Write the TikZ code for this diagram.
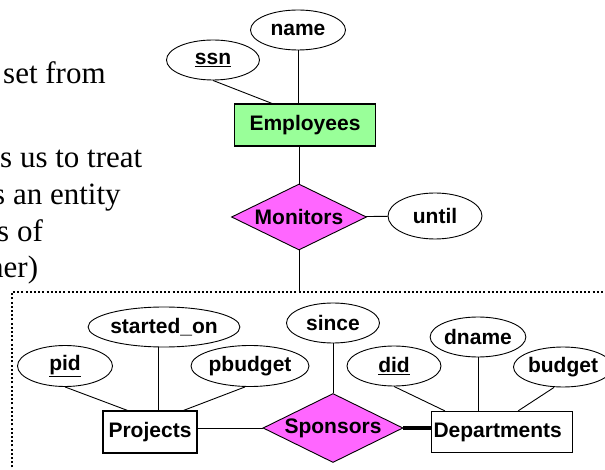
\documentclass[tikz,border=0pt]{standalone}
\usepackage{fontspec}
\setmainfont{Liberation Serif}
\setsansfont{Liberation Sans}
\usetikzlibrary{shapes.geometric}
\definecolor{entgreen}{RGB}{153,255,153}
\definecolor{relpink}{RGB}{255,102,255}
% keep the label from widening the diamond
\newcommand{\rlabel}[1]{\makebox[30pt]{#1}}

\begin{document}
\begin{tikzpicture}[x=1pt,y=-1pt,
    lbl/.style={font=\sffamily\bfseries\fontsize{21}{21}\selectfont},
    attr/.style={ellipse,draw,line width=0.9pt,inner sep=0pt,minimum height=40pt,lbl},
    ent/.style={rectangle,draw,line width=1.2pt,inner sep=0pt,minimum height=42pt,lbl},
    rel/.style={diamond,draw,line width=0.9pt,fill=relpink,inner sep=0pt,lbl},
    slide/.style={anchor=base west,inner sep=0pt,font=\fontsize{31}{37}\selectfont},
    aggr/.style={line width=2.2pt,dash pattern=on 2pt off 2.2pt}]
  \clip (0,0) rectangle (605,470);
  % leftover slide text, cut at the left border
  \node[slide] (t1) at (3,84) {set from};
  \node[slide] (t2) at (0,168) {s us to treat};
  \node[slide] (t3) at (-7,205) {s an entity};
  \node[slide] (t4) at (-3,242) {s of};
  \node[slide] (t5) at (-12,278) {her)};

  % Employees monitors the aggregate
  \node[attr,minimum width=95pt] (name) at (298,30) {name};
  \node[attr,minimum width=93pt] (ssn) at (213,60) {\underline{ssn}};
  \node[ent,fill=entgreen,minimum width=141pt] (emp) at (305,125) {Employees};
  \node[rel,minimum width=135pt,minimum height=66pt] (mon) at (299,217) {\rlabel{Monitors}};
  \node[attr,minimum width=94pt,minimum height=46pt] (until) at (435,216) {until};

  % aggregate: Projects -- Sponsors -- Departments
  \node[attr,minimum width=123pt] (sto) at (164,327) {started\_on};
  \node[attr,minimum width=95pt,minimum height=41pt] (pid) at (65,366) {\underline{pid}};
  \node[attr,minimum width=118pt,minimum height=41pt] (pbud) at (250,366) {pbudget};
  \node[ent,fill=white,minimum width=94pt] (proj) at (150,432) {Projects};
  \node[attr,minimum width=93pt] (since) at (333,323) {since};
  \node[rel,minimum width=140pt,minimum height=69pt] (spon) at (333,428) {\rlabel{Sponsors}};
  \node[attr,minimum width=94pt] (did) at (394,366) {\underline{did}};
  \node[attr,minimum width=93pt] (dname) at (478,337) {dname};
  \node[attr,minimum width=90pt] (bud) at (563,367) {budget};
  \node[ent,fill=white,minimum width=141pt,minimum height=41pt,text width=137pt,align=left] (dept) at (502,432) {Departments};

  \coordinate (top) at (299,292);
  \draw[aggr] (12,480) -- (12,292) -- (615,292);

  \path[draw,line width=0.9pt]
    (name) edge (name |- emp.north)
    (ssn.south) edge ([xshift=38pt]emp.north west)
    (mon) edge (mon |- emp.south)
          edge (until)
          edge (mon |- top)
    (pid.south) edge ([xshift=25pt]proj.north west)
    ([xshift=-6pt]sto.south) edge ([xshift=-6pt]sto.south |- proj.north)
    ([xshift=-5pt]pbud.south) edge ([xshift=-14pt]proj.north east)
    (since) edge (spon)
    (spon.west) edge (spon.west -| proj.east)
    (did.south) edge ([xshift=14pt]dept.north west)
    (dname) edge (dname |- dept.north)
    ([xshift=-9pt]bud.south) edge ([xshift=-55pt]dept.north east);
  \draw[line width=4pt] (spon.east) -- (spon.east -| dept.west);
\end{tikzpicture}
\end{document}
